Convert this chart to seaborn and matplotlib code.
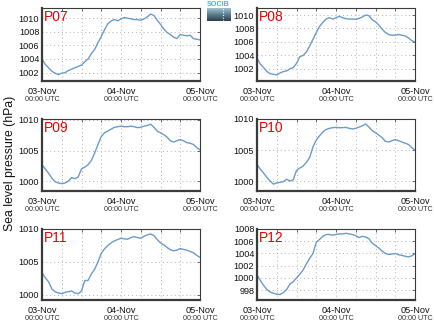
import numpy as np
import pandas as pd
import matplotlib
matplotlib.use("Agg")
import matplotlib.pyplot as plt
import matplotlib.transforms as mtransforms
import seaborn as sns

sns.set_style("white")
plt.rcParams['font.family'] = ['Liberation Sans', 'DejaVu Sans']

hours = list(range(49))
stations = ["P07", "P08", "P09", "P10", "P11", "P12"]

p07 = [1004.0, 1003.2, 1002.7, 1002.2, 1001.9, 1001.7, 1001.9, 1002.0, 1002.3, 1002.5,
       1002.7, 1002.9, 1003.1, 1003.6, 1004.0, 1004.8, 1005.4, 1006.4, 1007.3, 1008.3,
       1009.2, 1009.6, 1009.8, 1009.6, 1009.9, 1010.1, 1010.0, 1009.9, 1009.8, 1009.8,
       1009.7, 1009.9, 1010.2, 1010.6, 1010.4, 1009.7, 1009.1, 1008.4, 1007.9, 1007.6,
       1007.2, 1007.0, 1007.6, 1007.5, 1007.4, 1007.5, 1007.0, 1006.9, 1006.8]
p08 = [1003.6, 1002.7, 1002.2, 1001.6, 1001.3, 1001.2, 1001.1, 1001.4, 1001.6, 1001.7,
       1002.0, 1002.2, 1002.8, 1003.8, 1004.0, 1004.5, 1005.4, 1006.4, 1007.4, 1008.3,
       1008.9, 1009.4, 1009.6, 1009.4, 1009.6, 1009.8, 1009.6, 1009.45, 1009.4, 1009.4,
       1009.35, 1009.5, 1009.7, 1010.0, 1009.9, 1009.3, 1009.0, 1008.5, 1007.9, 1007.4,
       1007.1, 1007.0, 1007.0, 1007.1, 1007.0, 1006.9, 1006.6, 1006.2, 1006.0]
p09 = [1002.7, 1002.0, 1001.3, 1000.5, 999.9, 999.7, 999.6, 999.7, 1000.0, 1000.6,
       1000.4, 1000.7, 1002.0, 1002.3, 1002.7, 1003.4, 1004.6, 1006.0, 1007.3, 1007.9,
       1008.2, 1008.5, 1008.8, 1008.9, 1009.0, 1008.9, 1008.9, 1009.0, 1008.9, 1008.75,
       1008.8, 1009.0, 1009.1, 1009.3, 1008.8, 1008.2, 1007.9, 1007.6, 1007.2, 1006.6,
       1006.4, 1006.6, 1006.8, 1006.6, 1006.3, 1006.2, 1006.0, 1005.5, 1005.1]
p10 = [1002.7, 1001.9, 1001.3, 1000.6, 1000.0, 999.5, 999.7, 999.8, 999.9, 1000.3,
       1000.0, 1000.2, 1001.7, 1002.1, 1002.4, 1003.0, 1003.8, 1005.5, 1006.6, 1007.3,
       1007.9, 1008.3, 1008.5, 1008.6, 1008.65, 1008.6, 1008.6, 1008.65, 1008.5, 1008.4,
       1008.5, 1008.7, 1008.9, 1009.2, 1008.7, 1008.1, 1007.8, 1007.4, 1007.0, 1006.4,
       1006.3, 1006.5, 1006.7, 1006.5, 1006.3, 1006.1, 1005.9, 1005.4, 1005.0]
p11 = [1003.4, 1002.6, 1002.0, 1000.9, 1000.5, 1000.3, 1000.2, 1000.4, 1000.5, 1000.6,
       1000.3, 1000.2, 1000.6, 1002.2, 1002.2, 1003.2, 1003.9, 1005.0, 1006.3, 1007.0,
       1007.5, 1007.9, 1008.2, 1008.4, 1008.6, 1008.5, 1008.45, 1008.7, 1008.85, 1008.7,
       1008.6, 1008.9, 1009.1, 1009.25, 1009.0, 1008.4, 1007.9, 1007.6, 1007.2, 1006.85,
       1006.7, 1006.8, 1007.05, 1006.9, 1006.8, 1006.6, 1006.4, 1006.0, 1005.7]
p12 = [1000.5, 999.6, 998.8, 998.1, 997.7, 997.5, 997.35, 997.3, 997.6, 998.1,
       999.0, 999.4, 1000.0, 1000.6, 1001.3, 1002.3, 1003.2, 1004.0, 1005.8, 1006.3,
       1006.8, 1007.1, 1007.1, 1007.0, 1007.1, 1007.2, 1007.2, 1007.3, 1007.2, 1007.1,
       1006.9, 1006.6, 1006.8, 1006.7, 1006.4, 1005.7, 1005.3, 1004.9, 1004.4, 1004.0,
       1003.85, 1003.9, 1004.0, 1003.8, 1003.7, 1003.55, 1003.45, 1003.6, 1004.0]
series = [p07, p08, p09, p10, p11, p12]

ylims = [(1000.76, 1011.5), (1000.2, 1011.04), (998.4, 1010.16),
         (998.4, 1010.0), (999.24, 1010.0), (996.4, 1008.0)]
yticks = [[1002, 1004, 1006, 1008, 1010], [1002, 1004, 1006, 1008, 1010],
          [1000, 1005, 1010], [1000, 1005, 1010], [1000, 1005, 1010],
          [998, 1000, 1002, 1004, 1006, 1008]]
xtick_pos = [0, 24, 48]
xtick_labels = ["03-Nov", "04-Nov", "05-Nov"]
xtick_sub = ["00:00 UTC", "00:00 UTC", "00:00 UTC"]

W, H = 434, 327
fig = plt.figure(figsize=(W / 100, H / 100), dpi=100)

lefts = [42, 257]
rows = [(8, 81), (119, 191), (229, 300)]

for i, (name, vals) in enumerate(zip(stations, series)):
    r, c = divmod(i, 2)
    top, bot = rows[r]
    ax = fig.add_axes([lefts[c] / W, 1 - bot / H, 158 / W, (bot - top) / H])
    df = pd.DataFrame({"hour": hours, "p": vals})
    sns.lineplot(data=df, x="hour", y="p", ax=ax, color="#6b9bcc", lw=1.0)
    ax.set_xlim(0, 48)
    ax.set_ylim(*ylims[i])
    ax.set_xticks(xtick_pos)
    ax.set_xticks(range(0, 49, 6), minor=True)
    ax.set_xticklabels(xtick_labels, fontsize=6.6, color="#111")
    ax.set_yticks(yticks[i])
    ax.set_yticklabels([str(v) for v in yticks[i]], fontsize=6.6, color="#111")
    ax.set_xlabel("")
    ax.set_ylabel("")
    ax.grid(True, which="both", axis="x", ls=(0, (1, 3)), color="#b0b0b0", lw=0.7)
    ax.grid(True, which="major", axis="y", ls=(0, (1, 3)), color="#b0b0b0", lw=0.7)
    ax.tick_params(axis="both", which="both", direction="in", length=2, width=0.6,
                   top=True, right=True, color="#555")
    ax.tick_params(axis="x", which="major", pad=4)
    ax.tick_params(axis="y", which="major", pad=2)
    for s in ["left", "bottom"]:
        ax.spines[s].set_linewidth(1.6)
        ax.spines[s].set_color("#3a3a3a")
    for s in ["top", "right"]:
        ax.spines[s].set_linewidth(0.8)
        ax.spines[s].set_color("#3a3a3a")
    trans = mtransforms.blended_transform_factory(ax.transData, ax.transAxes)
    for xp, sub in zip(xtick_pos, xtick_sub):
        ax.text(xp, -0.26, sub, transform=trans, ha="center", va="center",
                fontsize=5.2, color="#333")
    ax.text(0.015, 0.97, name, transform=ax.transAxes, ha="left", va="top",
            fontsize=10, color="#ee0000")

fig.text(10 / W, 0.5, "Sea level pressure (hPa)", rotation=90, ha="center",
         va="center", fontsize=8.8, color="#111")

# small logo
lax = fig.add_axes([207 / W, 1 - 21 / H, 23 / W, 13 / H])
grad = np.linspace(0, 1, 50).reshape(-1, 1)
lax.imshow(grad, aspect="auto", extent=(0, 1, 1, 0),
           cmap=matplotlib.colors.LinearSegmentedColormap.from_list(
               "lg", ["#9cc4d0", "#5c7c8c", "#2f3f4f"]))
lax.axvline(0.7, color="white", ls=(0, (1, 1.5)), lw=0.8)
lax.set_xlim(0, 1)
lax.set_ylim(1, 0)
lax.axis("off")
fig.text(218 / W, 1 - 4.5 / H, "SOCIB", ha="center", va="center", fontsize=5.2,
         color="#40b8d8", fontweight="bold")

fig.savefig("out.png", dpi=100)
